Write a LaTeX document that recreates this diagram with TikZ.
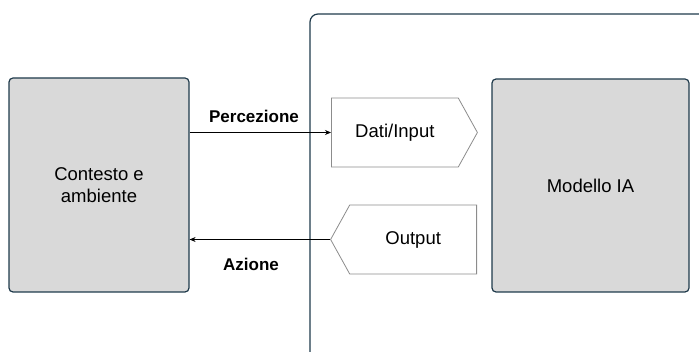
\documentclass[tikz,border=0pt]{standalone}
\usepackage{fontspec}
\setmainfont{Liberation Sans}
\usetikzlibrary{shapes.symbols,arrows.meta}
\definecolor{boxgray}{HTML}{D9D9D9}
\definecolor{edgeblue}{HTML}{1F3A4B}
\definecolor{tagline}{HTML}{8C8C8C}
\tikzset{
  block/.style={draw=edgeblue, line width=1.2pt, fill=boxgray, rounded corners=4pt,
    font=\fontsize{18.5}{22}\selectfont, align=center},
  tag/.style={draw=tagline, line width=0.8pt, fill=white, signal, signal pointer angle=122,
    minimum width=146pt, minimum height=69pt, font=\fontsize{18.5}{22}\selectfont},
  flow/.style={-{Stealth[length=6pt,width=5pt]}, line width=1pt},
  flowlabel/.style={font=\fontsize{17}{20}\selectfont\bfseries}
}
\begin{document}
\begin{tikzpicture}[x=1pt,y=-1pt]
  \useasboundingbox (0,0) rectangle (699,352);
  % panel of the AI system, cut off at the right and bottom
  \begin{scope}
    \clip (0,0) rectangle (699,352);
    \draw[edgeblue, line width=1.2pt, rounded corners=8pt] (310,370) -- (310,14) -- (720,14);
  \end{scope}
  \node[block, minimum width=180pt, minimum height=214pt] (ctx) at (99,185) {Contesto e\\ambiente};
  \node[block, minimum width=197pt, minimum height=213pt] (model) at (590.5,185.5) {Modello IA};
  \node[tag, signal to=east, anchor=west] (input) at (331,132.5) {Dati/Input};
  \node[tag, signal to=west, anchor=east] (output) at (477,239.5) {Output};
  % connectors
  \draw[flow] (ctx.east |- input.west) -- (input.west);
  \draw[flow] (output.west) -- (output.west -| ctx.east);
  \node[flowlabel] (perc) at (254,116) {Percezione};
  \node[flowlabel] (azione) at (251,264) {Azione};
\end{tikzpicture}
\end{document}
